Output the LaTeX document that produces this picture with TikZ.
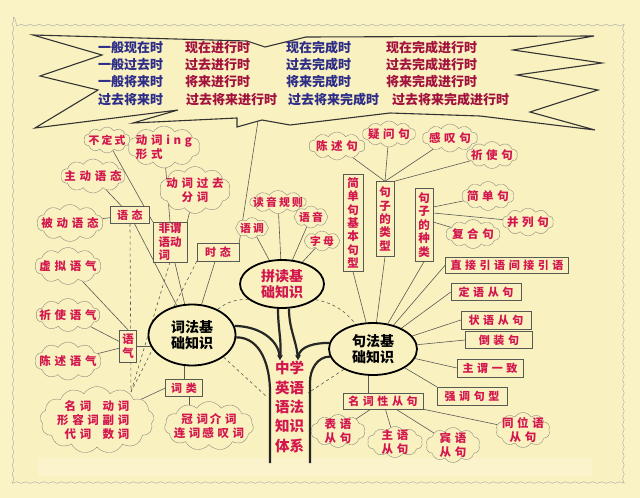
\documentclass[tikz,border=0pt]{standalone}
\usepackage{fontspec}
\setmainfont{Noto Sans CJK SC}
\newfontfamily\redfont[LetterSpace=20]{Noto Sans CJK SC}
\newfontfamily\widefont[LetterSpace=32]{Noto Sans CJK SC}
\usetikzlibrary{arrows.meta, shapes.symbols, shapes.geometric, backgrounds, decorations.pathmorphing}
\definecolor{bg}{HTML}{FAF3C6}
\definecolor{paper}{HTML}{F9F1C0}
\definecolor{ink}{HTML}{D3174E}
\definecolor{burstred}{HTML}{A3123E}
\definecolor{burstblue}{HTML}{2D2D88}
\definecolor{edge}{HTML}{5A5A55}
\definecolor{puff}{HTML}{8C8C80}
\pgfdeclarelayer{paper}
\pgfsetlayers{paper,background,main}
\tikzset{
  cl/.style={cloud, cloud puffs=10, cloud puff arc=115, cloud ignores aspect, draw=puff, fill=paper, text=ink,
    font=\redfont\bfseries\fontsize{10.8}{13}\selectfont, inner xsep=-10pt, inner ysep=-4pt, align=center},
  clw/.style={cl, font=\widefont\bfseries\fontsize{11.5}{14}\selectfont},
  bx/.style={draw=edge, fill=paper, text=ink, font=\widefont\bfseries\fontsize{11}{13}\selectfont, inner sep=1pt, align=center},
  vbx/.style={bx, font=\bfseries\fontsize{11.5}{13.4}\selectfont},
  hub/.style={ellipse, draw=black, line width=1.8pt, fill=paper, font=\bfseries\fontsize{14}{16}\selectfont, align=center, inner sep=0pt},
  a/.style={draw=edge, line width=0.6pt},
  ad/.style={a, dashed},
  trunk/.style={draw=black!85, line width=2.2pt},
  tarr/.style={trunk, -{Stealth[length=5pt, width=5pt]}},
  tense/.style={anchor=west, font=\bfseries\fontsize{13}{14}\selectfont, inner sep=0pt},
}

\begin{document}
\begin{tikzpicture}[x=1pt, y=1pt]
\useasboundingbox (0,0) rectangle (640,-498);

% ---- paper and starburst ----
\begin{pgfonlayer}{paper}
  \fill[bg] (0,0) rectangle (640,-498);
  \draw[decorate, decoration={snake, amplitude=.8pt, segment length=9pt}, draw=gray!70, fill=paper] (13,-17) rectangle (624,-480);
  \fill[white, opacity=.18] (38,-458) rectangle (592,-476);
  \draw[line width=1.1pt, draw=black!80, fill=paper] (33,-35) -- (247,-41) -- (265,-47) -- (306,-37) -- (594,-36)
    -- (513,-50) -- (602,-63) -- (517,-75) -- (598,-90) -- (530,-112) -- (595,-130)
    -- (480,-116) -- (390,-113) -- (290,-125) -- (262,-120) -- (237,-127) -- (237,-118)
    -- (133,-123) -- (178,-110) -- (35,-128) -- (98,-90) -- (40,-76) -- (102,-55) -- cycle;
\end{pgfonlayer}

% ---- tenses ----
\node[tense, text=burstblue] (t11) at (98,-48)  {一般现在时};
\node[tense, text=burstred]  (t12) at (185,-48) {现在进行时};
\node[tense, text=burstblue] (t13) at (286,-48) {现在完成时};
\node[tense, text=burstred]  (t14) at (386,-48) {现在完成进行时};
\node[tense, text=burstblue] (t21) at (98,-65)  {一般过去时};
\node[tense, text=burstred]  (t22) at (185,-65) {过去进行时};
\node[tense, text=burstblue] (t23) at (286,-65) {过去完成时};
\node[tense, text=burstred]  (t24) at (386,-65) {过去完成进行时};
\node[tense, text=burstblue] (t31) at (98,-82)  {一般将来时};
\node[tense, text=burstred]  (t32) at (185,-82) {将来进行时};
\node[tense, text=burstblue] (t33) at (286,-82) {将来完成时};
\node[tense, text=burstred]  (t34) at (386,-82) {将来完成进行时};
\node[tense, text=burstblue] (t41) at (98,-100)  {过去将来时};
\node[tense, text=burstred]  (t42) at (186,-100) {过去将来进行时};
\node[tense, text=burstblue] (t43) at (288,-100) {过去将来完成时};
\node[tense, text=burstred]  (t44) at (392,-100) {过去将来完成进行时};
\coordinate (burstfoot) at (258,-121);

% ---- hubs ----
\node[hub, text=ink, minimum width=84, minimum height=48] (pindu) at (282,-284) {拼读基\\础知识};
\node[hub, minimum width=87, minimum height=61] (cifa) at (192,-335) {词法基\\础知识};
\node[hub, minimum width=88, minimum height=52] (jufa) at (373,-349) {句法基\\础知识};
\node[text=ink, font=\bfseries\fontsize{14.5}{19.3}\selectfont, align=center, inner sep=0pt] (title) at (289.5,-407) {中学\\英语\\语法\\知识\\体系};

% ---- word side ----
\node[cl, minimum width=46, minimum height=26] (budingshi) at (107,-140) {不定式};
\node[clw, minimum width=72, minimum height=42, align=left] (ingxs) at (164,-147) {动词ing\\形式};
\node[clw, minimum width=64, minimum height=34] (zhudong) at (93,-176) {主动语态};
\node[clw, minimum width=71, minimum height=47] (guoqu) at (195,-190) {动词过去\\分词};
\node[clw, minimum width=66, minimum height=37] (beidong) at (70,-223) {被动语态};
\node[clw, minimum width=66, minimum height=37] (xuni) at (68,-266) {虚拟语气};
\node[clw, minimum width=64, minimum height=33] (qishi) at (68,-315) {祈使语气};
\node[clw, minimum width=66, minimum height=38] (chenshu) at (68,-361) {陈述语气};
\node[clw, minimum width=114, minimum height=67, cloud puffs=13, align=left] (bigcloud) at (97,-420)
  {\makebox[38pt]{名词}\makebox[38pt]{动词}\\\makebox[38pt]{形容词}\makebox[38pt]{副词}\\\makebox[38pt]{代词}\makebox[38pt]{数词}};
\node[clw, minimum width=89, minimum height=49, cloud puffs=11] (guanci) at (209,-426) {冠词\,介词\\连词\,感叹词};

\node[bx, minimum width=39, minimum height=17] (yutai) at (130,-215) {语态};
\node[vbx, minimum width=34, minimum height=39, align=left] (feiwei) at (170,-242) {非谓\\语动\\词};
\node[bx, minimum width=42, minimum height=18] (shitai) at (218,-252) {时态};
\node[vbx, minimum width=17, minimum height=32] (yuqi) at (128,-346) {语\\气};
\node[bx, minimum width=37, minimum height=17] (cilei) at (184,-388) {词类};

% ---- reading side ----
\node[cl, minimum width=56, minimum height=23] (duyin) at (278,-202) {读音规则};
\node[cl, minimum width=33, minimum height=21, cloud puffs=8] (yudiao) at (252,-228) {语调};
\node[cl, minimum width=34, minimum height=22, cloud puffs=8] (yuyin) at (311,-217) {语音};
\node[cl, minimum width=36, minimum height=20, cloud puffs=8] (zimu) at (322,-241) {字母};

% ---- sentence side ----
\node[clw, minimum width=56, minimum height=28] (chenshuju) at (337,-146) {陈述句};
\node[clw, minimum width=53, minimum height=26] (yiwen) at (389,-134) {疑问句};
\node[clw, minimum width=55, minimum height=28] (gantan) at (450,-138) {感叹句};
\node[clw, minimum width=51, minimum height=27] (qishiju) at (492,-155) {祈使句};
\node[clw, minimum width=52, minimum height=29] (jiandan) at (488,-196) {简单句};
\node[clw, minimum width=51, minimum height=28] (binglie) at (528,-222) {并列句};
\node[clw, minimum width=54, minimum height=29] (fuhe) at (473,-234) {复合句};
\node[clw, minimum width=54, minimum height=33] (biaoyu) at (338,-431) {表语\\从句};
\node[clw, minimum width=55, minimum height=31] (zhuyu) at (395,-442) {主语\\从句};
\node[clw, minimum width=54, minimum height=35] (binyu) at (453,-445) {宾语\\从句};
\node[clw, minimum width=54, minimum height=35] (tongwei) at (523,-430) {同位语\\从句};

\node[vbx, minimum width=20, minimum height=97] (jbjx) at (353,-223) {简\\单\\句\\基\\本\\句\\型};
\node[vbx, minimum width=18, minimum height=75] (jzlx) at (385,-219) {句\\子\\的\\类\\型};
\node[vbx, minimum width=18, minimum height=73] (jzzl) at (424,-225) {句\\子\\的\\种\\类};
\node[bx, minimum width=123, minimum height=16] (yinyu) at (507,-265) {直接引语间接引语};
\node[bx, minimum width=70, minimum height=17] (dingyu) at (486,-292) {定语从句};
\node[bx, minimum width=70, minimum height=18] (zhuangyu) at (496,-320) {状语从句};
\node[bx, minimum width=67, minimum height=17] (daozhuang) at (499,-340) {倒装句};
\node[bx, minimum width=66, minimum height=18] (zhuwei) at (490,-368) {主谓一致};
\node[bx, minimum width=70, minimum height=18] (qiangdiao) at (472,-396) {强调句型};
\node[bx, minimum width=80, minimum height=16] (mingci) at (383,-401) {名词性从句};

% ---- trunk ends ----
\coordinate (tipl)  at (280,-360);
\coordinate (tipr)  at (298,-360);
\coordinate (ltop)  at (270,-392);
\coordinate (lfoot) at (270,-463);
\coordinate (rtop)  at (310,-382);
\coordinate (rfoot) at (310,-463);
\coordinate (ldash) at (267,-397);
\coordinate (rdash) at (308,-393);
\coordinate (cdash) at (131,-392);

\begin{scope}[on background layer]
  % trunk
  \draw[trunk] (cifa.-3) to[out=0, in=90] (ltop) -- (lfoot);
  \draw[tarr] (cifa.12) to[out=0, in=95] (tipl);
  \draw[tarr] ([xshift=-4]pindu.south) to[out=-90, in=85] (tipl);
  \draw[tarr] ([xshift=7]pindu.south) to[out=-90, in=95] (tipr);
  \draw[tarr] (jufa.172) to[out=180, in=85] (tipr);
  \draw[trunk] (jufa.190) to[out=180, in=90] (rtop) -- (rfoot);

  % dashed ring
  \draw[ad] (pindu.205) to[bend right=20] (cifa.45);
  \draw[ad] (pindu.-25) to[bend left=20] (jufa.125);
  \draw[ad] (cifa.-35) -- (ldash);
  \draw[ad] (jufa.-145) -- (rdash);
  \draw[ad] (yutai.south) -- (cdash);
  \draw[ad] (feiwei.south) -- (cdash);
  \draw[ad] (shitai.south west) -- (cdash);

  % word side
  \draw[a] (zhudong) -- (yutai);
  \draw[a] (beidong) -- (yutai);
  \draw[a] (yutai) -- (cifa);
  \draw[a] (budingshi) -- (feiwei.north west);
  \draw[a] (ingxs) -- (feiwei.north);
  \draw[a] (guoqu) -- (feiwei.north east);
  \draw[a] (feiwei) -- (cifa);
  \draw[a] (shitai) -- (cifa);
  \draw[a] (burstfoot) -- (shitai.north east);
  \draw[a] (xuni) -- (yuqi.north);
  \draw[a] (qishi) -- (yuqi);
  \draw[a] (chenshu) -- (yuqi);
  \draw[a] (yuqi.east) -- (yuqi.east -| cifa.center);
  \draw[a] (cilei.north) -- (cilei.north |- cifa.center);
  \draw[a] (cilei.west) -- (bigcloud);
  \draw[a] (cilei.-60) -- (cilei.-60 |- guanci.center);

  % reading side
  \draw[a] (yudiao) -- (pindu);
  \draw[a] (duyin) -- (pindu);
  \draw[a] (yuyin) -- (pindu);
  \draw[a] (zimu) -- (pindu);

  % sentence side
  \draw[a] (jbjx.south) -- (jufa);
  \draw[a] (jzlx.south) -- (jufa);
  \draw[a] (jzzl.south) -- (jufa);
  \draw[a] (yinyu.west) -- (jufa);
  \draw[a] (dingyu.west) -- (jufa);
  \draw[a] (zhuangyu.west) -- (jufa);
  \draw[a] (daozhuang.west) -- (jufa);
  \draw[a] (zhuwei.west) -- (jufa);
  \draw[a] (qiangdiao.north west) -- (jufa);
  \draw[a] ([xshift=-15]mingci.north) -- ([xshift=-15]mingci.north |- jufa.center);
  \draw[a] (mingci) -- (biaoyu);
  \draw[a] (mingci) -- (zhuyu);
  \draw[a] (mingci) -- (binyu);
  \draw[a] (mingci.south east) -- (tongwei);
  \draw[a] (chenshuju) -- (jzlx.north);
  \draw[a] (yiwen) -- (jzlx.north);
  \draw[a] (gantan) -- (jzlx.north);
  \draw[a] (qishiju) -- (jzlx.north east);
  \draw[a] ([yshift=18]jzzl.east) -- (jiandan);
  \draw[a] ([yshift=12]jzzl.east) -- (binglie);
  \draw[a] ([yshift=3]jzzl.east) -- (fuhe);
\end{scope}
\end{tikzpicture}
\end{document}
